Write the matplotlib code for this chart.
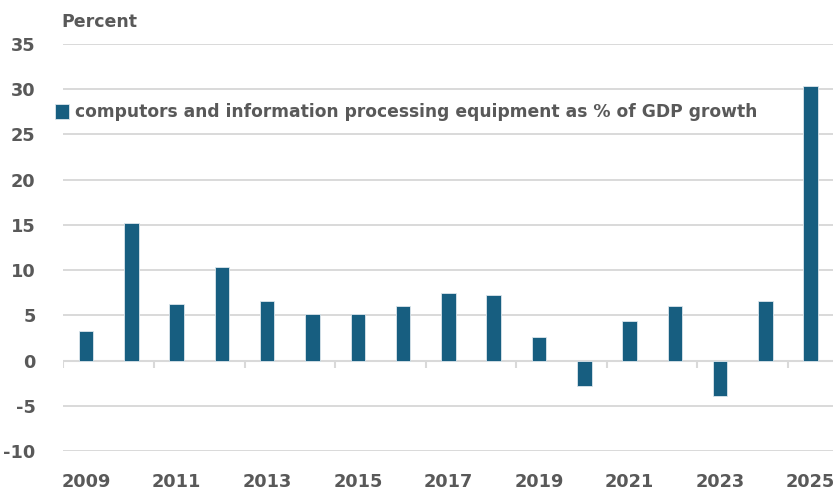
import matplotlib.pyplot as plt
import numpy as np

years = list(range(2009, 2026))
values = [3.3, 15.2, 6.2, 10.35, 6.6, 5.1, 5.1, 6.0, 7.5, 7.3, 2.65, -2.8, 4.4, 6.0, -3.9, 6.6, 30.4]
series_name = 'computors and information processing equipment as % of GDP growth'

bar_color = '#175E80'
text_color = '#595959'
grid_color = '#D9D9D9'

plt.rcParams['font.family'] = ['DejaVu Sans']
plt.rcParams['font.weight'] = 'bold'
plt.rcParams['axes.unicode_minus'] = False

fig = plt.figure(figsize=(8.35, 4.91), dpi=100)
ax = fig.add_axes([0.076, 0.0815, 0.922, 0.8289])

x = np.arange(len(years))
ax.bar(x, values, width=0.32, color=bar_color, edgecolor='#DCE6EC', linewidth=0.6,
       label=series_name, zorder=3)

ax.set_xlim(-0.5, len(years) - 0.5)
ax.set_ylim(-10, 35)
ax.set_yticks(range(-10, 36, 5))
ax.yaxis.grid(True, color=grid_color, linewidth=1.4, zorder=0)
ax.axhline(0, color=grid_color, linewidth=1.5, zorder=2)

# tick marks on the zero line, every second category boundary
ax.vlines(np.arange(-0.5, len(years), 2), -0.8, 0, color=grid_color, linewidth=1.5, zorder=2)

ax.set_xticks(x[::2])
ax.set_xticklabels([str(y) for y in years[::2]])
ax.tick_params(axis='x', length=0, pad=16, labelsize=12.8, labelcolor=text_color)
ax.tick_params(axis='y', length=0, pad=20, labelsize=12.8, labelcolor=text_color)
for s in ax.spines.values():
    s.set_visible(False)

fig.text(0.074, 0.955, 'Percent', fontsize=12.5, color=text_color, fontweight='bold', va='center')

leg = ax.legend(loc='upper left', bbox_to_anchor=(-0.031, 0.892), frameon=False,
                handlelength=0.8, handleheight=1.0, handletextpad=0.35,
                prop={'size': 12.3, 'weight': 'bold'})
for t in leg.get_texts():
    t.set_color(text_color)

plt.savefig('out.png', dpi=100)
